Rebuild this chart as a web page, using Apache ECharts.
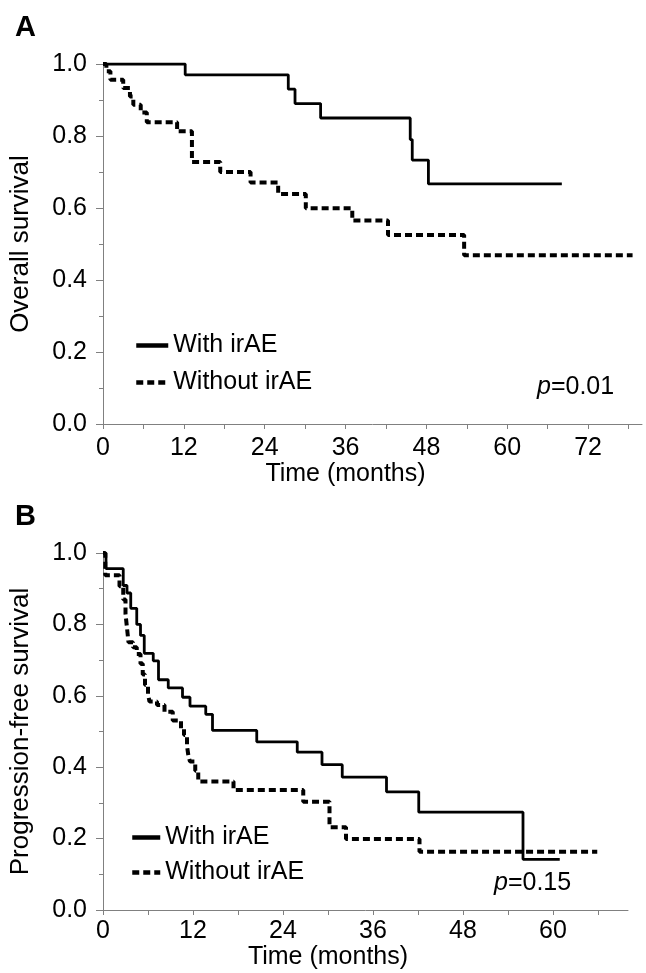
<!DOCTYPE html>
<html>
<head>
<meta charset="utf-8">
<script src="https://cdn.jsdelivr.net/npm/echarts@6/dist/echarts.min.js"></script>
<style>html,body{margin:0;padding:0;background:#fff}#c{width:646px;height:973px}</style>
</head>
<body>
<div id="c"></div>
<script>
// Panel A: overall survival
const aWithMonths = [0, 12.2, 27.5, 28.5, 32.3, 45.6, 45.9, 48.3, 68.1];
const aWithSurv   = [1.0, 0.97, 0.93, 0.89, 0.85, 0.79, 0.733, 0.667, 0.667];
const aWithoutMonths = [0, 0.5, 1.1, 3.0, 4.0, 4.5, 5.6, 6.5, 11.0, 13.2, 17.4, 21.9, 26.0, 30.1, 37.0, 42.3, 53.6, 78.6];
const aWithoutSurv   = [1.0, 0.98, 0.956, 0.933, 0.91, 0.887, 0.865, 0.838, 0.813, 0.728, 0.70, 0.671, 0.639, 0.599, 0.565, 0.525, 0.469, 0.469];
// Panel B: progression-free survival
const bWithMonths = [0, 0.4, 2.7, 3.2, 3.7, 4.5, 5.0, 5.5, 6.7, 7.4, 8.7, 10.6, 11.6, 13.7, 14.6, 20.5, 25.9, 29.2, 31.9, 37.8, 42.1, 56.0, 60.9];
const bWithSurv   = [1.0, 0.956, 0.909, 0.888, 0.845, 0.80, 0.769, 0.719, 0.698, 0.645, 0.622, 0.596, 0.571, 0.548, 0.503, 0.471, 0.442, 0.407, 0.372, 0.331, 0.274, 0.142, 0.142];
const bWithoutMonths = [0, 0.3, 2.2, 2.7, 3.0, 3.2, 3.4, 4.0, 4.5, 5.0, 5.3, 5.6, 6.0, 6.2, 7.2, 8.2, 9.3, 10.4, 10.8, 11.2, 11.4, 11.6, 12.3, 12.7, 17.4, 26.7, 30.2, 32.4, 42.2, 65.9];
const bWithoutSurv   = [1.0, 0.938, 0.907, 0.87, 0.83, 0.79, 0.75, 0.736, 0.717, 0.69, 0.66, 0.63, 0.605, 0.584, 0.574, 0.555, 0.531, 0.508, 0.49, 0.46, 0.43, 0.416, 0.39, 0.36, 0.336, 0.303, 0.232, 0.199, 0.163, 0.163];

const seriesNames = ['With irAE', 'Without irAE'];
const xTicksA  = [0, 6, 12, 18, 24, 30, 36, 42, 48, 54, 60, 66, 72, 78];
const xLabelsA = [0, 12, 24, 36, 48, 60, 72];
const xTicksB  = [0, 6, 12, 18, 24, 30, 36, 42, 48, 54, 60, 66];
const xLabelsB = [0, 12, 24, 36, 48, 60];
const pTextA = '0.01';
const pTextB = '0.15';

const FONT = 'Liberation Sans';
const FS = 25;
const AX = '#808080';
const zip = (xs, ys) => xs.map((x, i) => [x, ys[i]]);

function xAxis(gridIndex, max, ticks, labels, padRight, gap, margin) {
  return {
    type: 'value', gridIndex, min: 0, max,
    name: 'Time (months)', nameLocation: 'middle', nameGap: gap,
    nameTextStyle: { fontFamily: FONT, fontSize: FS, color: '#000', padding: [0, padRight, 0, 0] },
    axisLine: { show: true, onZero: false, lineStyle: { color: AX, width: 1 } },
    axisTick: { show: true, customValues: ticks, length: 5, lineStyle: { color: AX } },
    axisLabel: { customValues: labels, fontFamily: FONT, fontSize: FS, color: '#000', margin },
    splitLine: { show: false }
  };
}
function yAxis(gridIndex, name) {
  return {
    type: 'value', gridIndex, min: 0, max: 1, interval: 0.2,
    name, nameLocation: 'middle', nameGap: 69,
    nameTextStyle: { fontFamily: FONT, fontSize: 26, color: '#000' },
    axisLine: { show: true, onZero: false, lineStyle: { color: AX, width: 1 } },
    axisTick: { show: true, length: 7, lineStyle: { color: AX } },
    minorTick: { show: true, splitNumber: 2, length: 4, lineStyle: { color: AX } },
    axisLabel: { fontFamily: FONT, fontSize: FS, color: '#000', margin: 16, formatter: v => v.toFixed(1) },
    splitLine: { show: false }, minorSplitLine: { show: false }
  };
}
const solid = { color: '#000', width: 2.8, type: 'solid' };
const dashed = { color: '#000', width: 4, type: [7, 4] };
function km(name, xi, yi, data, ls) {
  return { type: 'line', name, xAxisIndex: xi, yAxisIndex: yi, step: 'end', showSymbol: false, symbol: 'none',
    data, lineStyle: ls, itemStyle: { color: '#000' }, silent: true, animation: false };
}
const legendText = { fontFamily: FONT, fontSize: FS, color: '#000' };
const pStyle = { fontFamily: FONT, fontSize: FS, fontWeight: 'normal', color: '#000', rich: { i: { fontStyle: 'italic', fontFamily: FONT, fontSize: FS } } };

const chart = echarts.init(document.getElementById('c'), null, { renderer: 'canvas' });
chart.setOption({
  backgroundColor: '#fff',
  animation: false,
  title: [
    { text: 'A', left: 10, top: 8, textStyle: { fontFamily: FONT, fontSize: 29, fontWeight: 'bold', color: '#000' } },
    { text: 'B', left: 10, top: 497, textStyle: { fontFamily: FONT, fontSize: 29, fontWeight: 'bold', color: '#000' } },
    { text: '{i|p}=' + pTextA, left: 537, top: 375, padding: 0, textStyle: pStyle },
    { text: '{i|p}=' + pTextB, left: 494, top: 871, padding: 0, textStyle: pStyle }
  ],
  legend: [
    { data: seriesNames, orient: 'vertical', left: 134, top: 333, padding: 0, itemGap: 12, itemWidth: 32, itemHeight: 20, selectedMode: false,
      itemStyle: { opacity: 0 }, lineStyle: { width: 4.5 }, textStyle: legendText },
    { data: seriesNames, orient: 'vertical', left: 130, top: 825, padding: 0, itemGap: 10, itemWidth: 28, itemHeight: 20, selectedMode: false,
      itemStyle: { opacity: 0 }, lineStyle: { width: 4.5 }, textStyle: legendText }
  ],
  grid: [
    { left: 102, top: 64, width: 540, height: 360 },
    { left: 102, top: 553, width: 526, height: 357 }
  ],
  xAxis: [ xAxis(0, 80, xTicksA, xLabelsA, 54, 29, 12), xAxis(1, 70, xTicksB, xLabelsB, 75, 27, 9) ],
  yAxis: [ yAxis(0, 'Overall survival'), yAxis(1, 'Progression-free survival') ],
  series: [
    km(seriesNames[0], 0, 0, zip(aWithMonths, aWithSurv), solid),
    km(seriesNames[1], 0, 0, zip(aWithoutMonths, aWithoutSurv), dashed),
    km(seriesNames[0], 1, 1, zip(bWithMonths, bWithSurv), solid),
    km(seriesNames[1], 1, 1, zip(bWithoutMonths, bWithoutSurv), dashed)
  ]
});
</script>
</body>
</html>
